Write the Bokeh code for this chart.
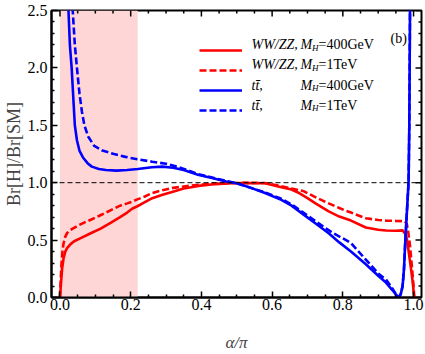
import math
from bokeh.plotting import figure
from bokeh.models import (Range1d, BoxAnnotation, Span, Label, Legend,
                          LegendItem, FixedTicker, PrintfTickFormatter)
from bokeh.embed import file_html
from bokeh.resources import INLINE

# ---------------- data ----------------
x_lo, x_hi = -0.024, 1.0225
y_lo, y_hi = 0.0, 2.5
x_ticks = [0.0, 0.2, 0.4, 0.6, 0.8, 1.0]
y_ticks = [0.0, 0.5, 1.0, 1.5, 2.0, 2.5]
x_minor = [round(i * 0.05, 2) for i in range(0, 21) if i % 4 != 0]
y_minor = [round(i * 0.1, 1) for i in range(0, 26) if i % 5 != 0]
shade_left, shade_right = 0.0, 0.22
ref_level = 1.0

ww400_x = [0.0, 0.003, 0.006, 0.01, 0.015, 0.02, 0.03, 0.04, 0.06, 0.087, 0.115, 0.143, 0.17,
           0.19, 0.205, 0.219, 0.24, 0.261, 0.29, 0.317, 0.35, 0.392, 0.44, 0.486, 0.53, 0.58,
           0.626, 0.655, 0.673, 0.70, 0.725, 0.76, 0.79, 0.823, 0.865, 0.90, 0.922, 0.95, 0.969,
           0.978, 0.983, 0.987, 0.992, 0.997, 1.002]
ww400_y = [0.0, 0.13, 0.25, 0.34, 0.40, 0.43, 0.465, 0.49, 0.52, 0.56, 0.60, 0.65, 0.70,
           0.74, 0.775, 0.795, 0.83, 0.865, 0.895, 0.92, 0.95, 0.972, 0.988, 0.995, 0.998, 0.995,
           0.96, 0.94, 0.915, 0.865, 0.815, 0.75, 0.705, 0.67, 0.61, 0.59, 0.584, 0.582, 0.585,
           0.55, 0.48, 0.38, 0.27, 0.15, 0.0]

ww1t_x = [0.0, 0.002, 0.004, 0.007, 0.01, 0.015, 0.02, 0.028, 0.036, 0.05, 0.07, 0.087, 0.11,
          0.14, 0.17, 0.19, 0.205, 0.219, 0.24, 0.261, 0.29, 0.32, 0.345, 0.392, 0.44, 0.486,
          0.53, 0.58, 0.626, 0.655, 0.69, 0.725, 0.76, 0.79, 0.809, 0.823, 0.865, 0.90, 0.922,
          0.95, 0.975, 0.981, 0.985, 0.99, 0.995, 1.0, 1.002]
ww1t_y = [0.0, 0.15, 0.28, 0.40, 0.47, 0.53, 0.56, 0.585, 0.60, 0.625, 0.655, 0.677, 0.71,
          0.755, 0.80, 0.82, 0.836, 0.855, 0.88, 0.91, 0.935, 0.955, 0.965, 0.982, 0.992, 0.997,
          0.999, 0.997, 0.97, 0.95, 0.925, 0.87, 0.82, 0.78, 0.755, 0.74, 0.69, 0.675, 0.67,
          0.667, 0.665, 0.64, 0.57, 0.45, 0.28, 0.1, 0.0]

tt400_x = [0.021, 0.024, 0.028, 0.033, 0.038, 0.042, 0.048, 0.055, 0.065, 0.078, 0.09, 0.11,
           0.13, 0.16, 0.19, 0.22, 0.26, 0.29, 0.32, 0.35, 0.39, 0.43, 0.47, 0.50, 0.54, 0.58,
           0.626, 0.655, 0.69, 0.725, 0.76, 0.79, 0.823, 0.865, 0.90, 0.922, 0.94, 0.95, 0.958,
           0.964, 0.969, 0.973, 0.976, 0.981, 0.986, 0.988, 0.989, 0.990, 0.991]
tt400_y = [2.7, 2.5, 2.2, 2.0, 1.72, 1.5, 1.37, 1.28, 1.22, 1.17, 1.14, 1.12,
           1.11, 1.105, 1.11, 1.12, 1.135, 1.14, 1.13, 1.11, 1.07, 1.04, 1.01, 0.995, 0.955, 0.91,
           0.85, 0.80, 0.72, 0.64, 0.56, 0.48, 0.40, 0.29, 0.19, 0.13, 0.065, 0.026, 0.0,
           0.03, 0.1, 0.25, 0.445, 0.735, 1.01, 1.5, 2.0, 2.5, 2.7]

tt1t_x = [0.033, 0.036, 0.042, 0.048, 0.055, 0.062, 0.069, 0.08, 0.097, 0.12, 0.153, 0.185,
          0.219, 0.261, 0.30, 0.33, 0.36, 0.39, 0.43, 0.47, 0.50, 0.54, 0.58, 0.626, 0.66,
          0.725, 0.77, 0.809, 0.823, 0.865, 0.90, 0.922, 0.94, 0.952, 0.958, 0.964, 0.969,
          0.973, 0.976, 0.981, 0.986, 0.988, 0.989, 0.990, 0.991]
tt1t_y = [2.7, 2.5, 2.2, 2.0, 1.78, 1.62, 1.5, 1.4, 1.32, 1.28, 1.25, 1.225,
          1.204, 1.183, 1.165, 1.14, 1.11, 1.075, 1.045, 1.015, 0.995, 0.955, 0.915, 0.86, 0.80,
          0.66, 0.565, 0.50, 0.475, 0.33, 0.21, 0.156, 0.08, 0.02, 0.0, 0.03, 0.1,
          0.25, 0.445, 0.735, 1.01, 1.5, 2.0, 2.5, 2.7]

# ---------------- figure ----------------
SERIF = "Liberation Serif"
RED = "#ff0000"
BLUE = "#0000ff"

FL, FR, FT, FB = 49, 4, 10, 56   # borders (px) around the plotting frame
p = figure(width=425, height=354, x_range=Range1d(x_lo, x_hi), y_range=Range1d(y_lo, y_hi),
           output_backend="svg", toolbar_location=None,
           min_border_left=FL, min_border_right=FR, min_border_top=FT, min_border_bottom=FB)
p.grid.visible = False
p.outline_line_color = "black"
p.outline_line_width = 2
p.background_fill_color = "white"

def style_axis(ax, ticks, minor):
    ax.ticker = FixedTicker(ticks=ticks, minor_ticks=minor)
    ax.formatter = PrintfTickFormatter(format="%.1f")
    ax.axis_line_color = "black"
    ax.axis_line_width = 2
    ax.major_tick_in = 6
    ax.major_tick_out = 0
    ax.minor_tick_in = 3
    ax.minor_tick_out = 0
    ax.major_tick_line_width = 1.5
    ax.minor_tick_line_width = 1.5
    ax.major_tick_line_color = "black"
    ax.minor_tick_line_color = "black"
    ax.major_label_text_font = SERIF
    ax.major_label_text_font_size = "16px"
    ax.major_label_text_color = "black"

xa = p.xaxis[0]
ya = p.yaxis[0]
style_axis(xa, x_ticks, x_minor)
style_axis(ya, y_ticks, y_minor)
xa.major_label_standoff = 1
ya.major_label_standoff = 4
xa.axis_label = "α/π"
xa.axis_label_text_font = SERIF
xa.axis_label_text_font_style = "italic"
xa.axis_label_text_font_size = "17px"
xa.axis_label_standoff = 20
ya.axis_label = "Br[H]/Br[SM]"
ya.axis_label_text_font = SERIF
ya.axis_label_text_font_style = "normal"
ya.axis_label_text_font_size = "18px"
ya.axis_label_standoff = 1

# inward ticks on the top and right edges of the frame
p.ray(x=x_ticks, y=[y_hi] * len(x_ticks), length=6, length_units="screen",
      angle=-math.pi / 2, line_color="black", line_width=1.5)
p.ray(x=x_minor, y=[y_hi] * len(x_minor), length=3, length_units="screen",
      angle=-math.pi / 2, line_color="black", line_width=1.5)
p.ray(x=[x_hi] * len(y_ticks), y=y_ticks, length=6, length_units="screen",
      angle=math.pi, line_color="black", line_width=1.5)
p.ray(x=[x_hi] * len(y_minor), y=y_minor, length=3, length_units="screen",
      angle=math.pi, line_color="black", line_width=1.5)

# shaded band and reference line
p.add_layout(BoxAnnotation(left=shade_left, right=shade_right, fill_color="#ffd6d6",
                           fill_alpha=1.0, line_color=None, level="underlay"))
p.add_layout(Span(location=ref_level, dimension="width", line_color="black",
                  line_width=1, line_dash="5 3"))

# curves
r1 = p.line(ww400_x, ww400_y, line_color=RED, line_width=2.6)
r2 = p.line(ww1t_x, ww1t_y, line_color=RED, line_width=2.6, line_dash="7 3")
r3 = p.line(tt400_x, tt400_y, line_color=BLUE, line_width=2.6)
r4 = p.line(tt1t_x, tt1t_y, line_color=BLUE, line_width=2.6, line_dash="7 3")

# legend samples (labels written separately below for mixed styles)
PAGE_FL, PAGE_FB = FL, 354 - FB   # frame left / bottom in page px
legend = Legend(items=[LegendItem(label=" ", renderers=[r]) for r in (r1, r2, r3, r4)],
                location=(197 - PAGE_FL, PAGE_FB - 121), padding=0, margin=0, spacing=0,
                glyph_width=43, glyph_height=20, label_height=20, label_width=0,
                label_standoff=0, border_line_color=None, background_fill_alpha=0,
                label_text_font_size="8px")
p.add_layout(legend, "center")

def txt(s, px, py, size="14px", style="normal"):
    p.add_layout(Label(x=px - PAGE_FL, y=PAGE_FB - py, x_units="screen", y_units="screen",
                       text=s, text_font=SERIF, text_font_size=size, text_font_style=style,
                       text_color="black", text_baseline="alphabetic", text_align="left"))

rows = [("WW/ZZ,", "=400GeV", 45), ("WW/ZZ,", "=1TeV", 65),
        ("tt\u0304,", "=400GeV", 85.5), ("tt\u0304,", "=1TeV", 105.5)]
for lead, tail, by in rows:
    txt(lead, 249, by, style="italic")
    txt("M", 298, by, style="italic")
    txt("H", 309.5, by + 3, size="9px", style="italic")
    txt(tail, 316, by)
txt("(b)", 388, 39)

open("out.html", "w").write(file_html(p, INLINE))
